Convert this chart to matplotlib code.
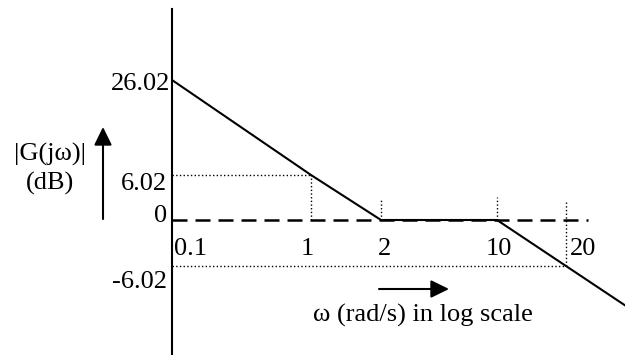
import matplotlib
matplotlib.use('Agg')
import matplotlib.pyplot as plt
import numpy as np

plt.rcParams['font.family'] = ['Liberation Serif', 'DejaVu Serif']

# asymptotic Bode magnitude (corner frequencies 2 and 10 rad/s)
omega = [0.1, 1, 2, 10, 20, 40]
mag_db = [26.02, 6.02, 0, 0, -6.02, -12.04]

xtick_vals = [0.1, 1, 2, 10, 20]
xtick_labels = ['0.1', '1', '2', '10', '20']
ytick_vals = [-6.02, 0, 6.02, 26.02]
ytick_labels = ['-6.02', '0', '6.02', '26.02']

# short dotted markers above the 0 dB line (dB)
guide_tops = {2: 2.7, 10: 3.1, 20: 2.7}

W, H = 625, 355
# the sketch is not to scale: pixel position of each labelled value
x_knots_px = [172, 311, 381, 497, 566]
y_knots_px = [266, 220, 175, 80]   # from top, for ytick_vals


def piecewise(xk, yk):
    xk, yk = np.asarray(xk, float), np.asarray(yk, float)
    s0 = (yk[1] - yk[0]) / (xk[1] - xk[0])
    s1 = (yk[-1] - yk[-2]) / (xk[-1] - xk[-2])

    def f(v):
        v = np.asarray(v, float)
        out = np.interp(v, xk, yk)
        out = np.where(v < xk[0], yk[0] + (v - xk[0]) * s0, out)
        out = np.where(v > xk[-1], yk[-1] + (v - xk[-1]) * s1, out)
        return out
    return f


logk = np.log10(xtick_vals)
fx, fx_inv = piecewise(logk, x_knots_px), piecewise(x_knots_px, logk)
up = -np.array(y_knots_px, float)
fy, fy_inv = piecewise(ytick_vals, up), piecewise(up, ytick_vals)


def x_fwd(w):
    return fx(np.log10(np.maximum(np.asarray(w, float), 1e-9)))


def x_inv(p):
    return 10 ** fx_inv(p)


fig = plt.figure(figsize=(W / 100, H / 100), dpi=100)
ax = fig.add_axes([172 / W, 0, (W - 172) / W, (H - 9) / H])
ax.set_xscale('function', functions=(x_fwd, x_inv))
ax.set_yscale('function', functions=(fy, fy_inv))
ax.set_xlim(float(x_inv(172)), float(x_inv(W)))
ax.set_ylim(float(fy_inv(-H)), float(fy_inv(-9)))

for s in ['top', 'right', 'bottom']:
    ax.spines[s].set_visible(False)
ax.spines['left'].set_linewidth(1.5)
ax.set_xticks([])
ax.set_yticks([])
ax.patch.set_alpha(0)

# 0 dB reference line
ax.hlines(0, 0.1, 25, colors='black', lw=1.8, linestyles=(0, (6, 3.2)))

# dotted guides
ax.hlines([mag_db[1], mag_db[4]], 0.1, [omega[1], omega[4]], colors='black',
          lw=1.0, linestyles=':')
ax.vlines(omega[1], 0, mag_db[1], colors='black', lw=1.0, linestyles=':')
ax.vlines(20, mag_db[4], guide_tops[20], colors='black', lw=1.0, linestyles=':')
for w in [2, 10]:
    ax.vlines(w, 0, guide_tops[w], colors='black', lw=1.0, linestyles=':')

ax.plot(omega, mag_db, color='black', lw=1.5, zorder=3)

fs = 19
y_off = {'26.02': (-2, -10), '6.02': (-5, -15), '0': (-5, -2), '-6.02': (-5, -22)}
for v, lab in zip(ytick_vals, ytick_labels):
    ax.annotate(lab, xy=(0.1, v), xytext=y_off[lab], textcoords='offset pixels',
                ha='right', va='baseline', fontsize=fs, annotation_clip=False)

x_off = {'0.1': 18.5, '1': -4, '2': 3.5, '10': 2, '20': 17}
for v, lab in zip(xtick_vals, xtick_labels):
    ax.annotate(lab, xy=(v, 0), xytext=(x_off[lab], -35), textcoords='offset pixels',
                ha='center', va='baseline', fontsize=fs)

# axis titles and arrows
fig.text(50 / W, (H - 161) / H, '|G(jω)|', ha='center', va='baseline', fontsize=fs)
fig.text(50 / W, (H - 190) / H, '(dB)', ha='center', va='baseline', fontsize=fs)
fig.text(423 / W, (H - 322) / H, 'ω (rad/s) in log scale', ha='center',
         va='baseline', fontsize=fs)

arrow = dict(arrowstyle='-|>,head_length=0.55,head_width=0.27', color='black',
             lw=1.5, mutation_scale=20, shrinkA=0, shrinkB=0)
fig.add_artist(matplotlib.patches.FancyArrowPatch((103 / W, (H - 219) / H),
                                                  (103 / W, (H - 127) / H),
                                                  transform=fig.transFigure, **arrow))
fig.add_artist(matplotlib.patches.FancyArrowPatch((379 / W, (H - 289) / H),
                                                  (449 / W, (H - 289) / H),
                                                  transform=fig.transFigure, **arrow))

fig.savefig('out.png', dpi=100)
